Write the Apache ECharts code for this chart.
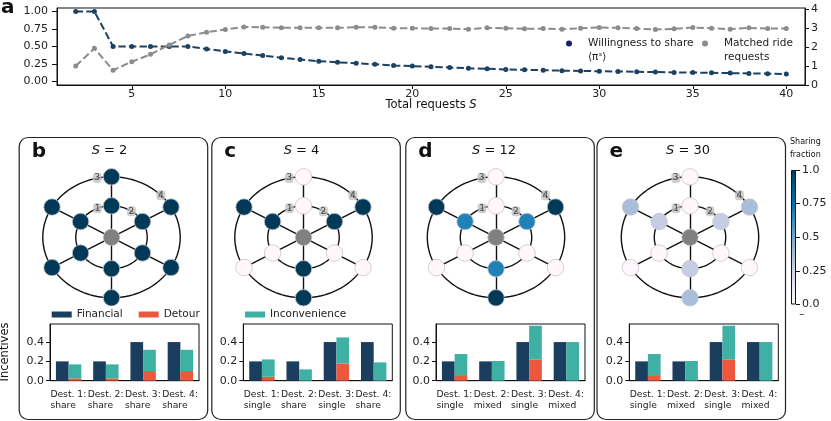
<!DOCTYPE html>
<html>
<head>
<meta charset="utf-8">
<script src="https://cdn.jsdelivr.net/npm/echarts@6/dist/echarts.min.js"></script>
<style>
  html, body { margin: 0; padding: 0; background: #fff; }
  #chart { width: 831px; height: 421px; }
</style>
</head>
<body>
<div id="chart"></div>
<script>
// ---- panel a: line chart data ----
var requests = [2, 3, 4, 5, 6, 7, 8, 9, 10, 11, 12, 13, 14, 15, 16, 17, 18, 19, 20, 21,
  22, 23, 24, 25, 26, 27, 28, 29, 30, 31, 32, 33, 34, 35, 36, 37, 38, 39, 40];
var willingness = [1.00, 1.00, 0.50, 0.50, 0.50, 0.50, 0.50, 0.465, 0.43, 0.40, 0.37, 0.34,
  0.315, 0.29, 0.275, 0.26, 0.245, 0.23, 0.22, 0.21, 0.20, 0.19, 0.182, 0.173, 0.167, 0.162,
  0.155, 0.15, 0.147, 0.143, 0.139, 0.135, 0.13, 0.128, 0.124, 0.12, 0.116, 0.112, 0.106];
var matched = [1.00, 1.94, 0.78, 1.23, 1.62, 2.12, 2.59, 2.79, 2.93, 3.07, 3.05, 3.03, 3.02,
  3.02, 3.02, 3.05, 3.05, 3.00, 3.00, 2.98, 2.98, 2.95, 3.02, 3.00, 2.97, 2.98, 2.95, 3.00,
  3.04, 3.02, 2.98, 2.93, 2.97, 3.04, 3.00, 2.95, 3.02, 2.98, 2.98];
var xTicks = [5, 10, 15, 20, 25, 30, 35, 40];
var leftTicks = [0, 0.25, 0.5, 0.75, 1];
var rightTicks = [0, 1, 2, 3, 4];

// ---- panels b-e ----
var panelLetters = ['b', 'c', 'd', 'e'];
var panelS = [2, 4, 12, 30];
var destNames = ['Dest. 1:', 'Dest. 2:', 'Dest. 3:', 'Dest. 4:'];
var destModes = [
  ['share', 'share', 'share', 'share'],
  ['single', 'share', 'single', 'share'],
  ['single', 'mixed', 'single', 'mixed'],
  ['single', 'mixed', 'single', 'mixed']
];
var financial = [[0.2, 0.2, 0.4, 0.4], [0.2, 0.2, 0.4, 0.4], [0.2, 0.2, 0.4, 0.4], [0.2, 0.2, 0.4, 0.4]];
var detour = [[0.024, 0.024, 0.1, 0.1], [0.041, 0, 0.179, 0], [0.058, 0, 0.221, 0], [0.058, 0, 0.221, 0]];
var inconvenience = [[0.145, 0.145, 0.22, 0.22], [0.179, 0.117, 0.269, 0.19],
  [0.218, 0.204, 0.348, 0.4], [0.218, 0.204, 0.348, 0.4]];
var barTicks = [0, 0.2, 0.4];

// network: centre node, inner ring and outer ring (angles in degrees)
var ringRadii = [0.52, 1.0];
var spokeAngles = [90, 30, -30, -90, -150, 150];
// sharing fraction per node, order follows spokeAngles
var innerShare = [
  [1, 1, 1, 1, 1, 1],
  [0, 1, 0, 1, 0, 1],
  [0, 0.68, 0, 0.68, 0, 0.68],
  [0, 0.28, 0, 0.28, 0, 0.28]
];
var outerShare = [
  [1, 1, 1, 1, 1, 1],
  [0, 1, 0, 1, 0, 1],
  [0, 1, 0, 1, 0, 1],
  [0, 0.37, 0, 0.37, 0, 0.37]
];
var destMarks = [{ name: '1', ring: 0, angle: 113 }, { name: '2', ring: 0, angle: 56 },
  { name: '3', ring: 1, angle: 102 }, { name: '4', ring: 1, angle: 44 }];
var cbarTicks = [0, 0.25, 0.5, 0.75, 1];
var cbarLabels = ['0.0', '0.25', '0.5', '0.75', '1.0'];

var PuBu = ['#fff7fb', '#ece7f2', '#d0d1e6', '#a6bddb', '#74a9cf', '#3690c0', '#0570b0', '#045a8d', '#023858'];
function hexRgb(h) { return [parseInt(h.substr(1, 2), 16), parseInt(h.substr(3, 2), 16), parseInt(h.substr(5, 2), 16)]; }
function pubu(v) {
  var t = Math.max(0, Math.min(1, v)) * (PuBu.length - 1);
  var i = Math.min(Math.floor(t), PuBu.length - 2), f = t - i;
  var a = hexRgb(PuBu[i]), b = hexRgb(PuBu[i + 1]);
  return 'rgb(' + [0, 1, 2].map(function (k) { return Math.round(a[k] + (b[k] - a[k]) * f); }).join(',') + ')';
}

// layout
var boxLeft = [16.7, 209.3, 403.3, 594.5];
var barLeft = [50, 243.3, 436, 629.3];
var netCx = [111.5, 303.5, 496, 690];
var netCy = 237.3, pxX = 68.7, pxY = 60.5;

var FONT = 'DejaVu Sans';
var ink = '#222';
var TICK = 11;

var grids = [{ left: 57, top: 8, width: 748, height: 77, show: true, borderColor: '#111', borderWidth: 1 }];
var xAxes = [{
  type: 'value', gridIndex: 0, min: 1, max: 41,
  axisLine: { onZero: false, lineStyle: { color: '#111' } },
  axisTick: { customValues: xTicks, length: 4, lineStyle: { color: '#111' } },
  axisLabel: { customValues: xTicks, fontSize: TICK, color: ink, margin: 3.5 },
  splitLine: { show: false }
}];
var yAxes = [{
  type: 'value', gridIndex: 0, min: -0.05, max: 1.05, position: 'left',
  axisLine: { show: true, onZero: false, lineStyle: { color: '#111' } },
  axisTick: { show: true, customValues: leftTicks, length: 5, lineStyle: { color: '#111' } },
  axisLabel: { customValues: leftTicks, fontSize: TICK, color: ink, margin: 9, formatter: function (v) { return v.toFixed(2); } },
  splitLine: { show: false }
}, {
  type: 'value', gridIndex: 0, min: 0, max: 4.07, position: 'right',
  axisLine: { show: true, onZero: false, lineStyle: { color: '#111' } },
  axisTick: { show: true, customValues: rightTicks, length: 4, lineStyle: { color: '#111' } },
  axisLabel: { customValues: rightTicks, fontSize: TICK, color: ink, margin: 6 },
  splitLine: { show: false }
}];
var series = [{
  type: 'line', name: 'Willingness to share', xAxisIndex: 0, yAxisIndex: 0,
  data: requests.map(function (s, i) { return [s, willingness[i]]; }),
  symbol: 'circle', symbolSize: 5, color: '#1b4262',
  lineStyle: { color: '#1b4262', width: 2, type: [7.4, 3.2] }, z: 3
}, {
  type: 'line', name: 'Matched ride requests', xAxisIndex: 0, yAxisIndex: 1,
  data: requests.map(function (s, i) { return [s, matched[i]]; }),
  symbol: 'circle', symbolSize: 5, color: '#8c8c8c',
  lineStyle: { color: '#8c8c8c', width: 2, type: [7.4, 3.2] }, z: 4
}];

var graphic = [];

for (var p = 0; p < 4; p++) {
  // network grid
  var gi = grids.length;
  grids.push({ left: netCx[p] - 1.3 * pxX, top: netCy - 1.2 * pxY, width: 2.6 * pxX, height: 2.4 * pxY });
  xAxes.push({ type: 'value', gridIndex: gi, min: -1.3, max: 1.3, show: false });
  yAxes.push({ type: 'value', gridIndex: gi, min: -1.2, max: 1.2, show: false });
  var xa = xAxes.length - 1, ya = yAxes.length - 1;

  series.push({
    type: 'custom', coordinateSystem: 'cartesian2d', xAxisIndex: xa, yAxisIndex: ya, silent: true, z: 1,
    data: ringRadii.map(function (r) { return [0, 0, r]; }),
    renderItem: function (params, api) {
      var r = api.value(2), pts = [];
      for (var t = 0; t <= 120; t++) {
        var a = t / 120 * 2 * Math.PI;
        pts.push(api.coord([r * Math.cos(a), r * Math.sin(a)]));
      }
      return { type: 'polyline', shape: { points: pts }, style: { stroke: '#111', lineWidth: 1.4, fill: null } };
    }
  });

  var nodes = [{ value: [0, 0], itemStyle: { color: '#808080' } }];
  var links = [];
  [innerShare[p], outerShare[p]].forEach(function (shares, ring) {
    spokeAngles.forEach(function (ang, k) {
      var a = ang * Math.PI / 180, r = ringRadii[ring];
      nodes.push({ value: [r * Math.cos(a), r * Math.sin(a)], itemStyle: { color: pubu(shares[k]) } });
      links.push(ring === 0 ? { source: 0, target: 1 + k } : { source: 1 + k, target: 7 + k });
    });
  });
  series.push({
    type: 'graph', coordinateSystem: 'cartesian2d', xAxisIndex: xa, yAxisIndex: ya, silent: true, z: 2,
    symbolSize: 16.5, data: nodes, links: links,
    itemStyle: { borderColor: '#c6c6c6', borderWidth: 0.8 },
    lineStyle: { color: '#111', width: 1.4, opacity: 1, curveness: 0 },
    label: { show: false }, emphasis: { disabled: true }
  });
  series.push({
    type: 'scatter', xAxisIndex: xa, yAxisIndex: ya, silent: true, z: 3,
    symbolSize: 0.1, itemStyle: { color: 'transparent' },
    data: destMarks.map(function (m) {
      var a = m.angle * Math.PI / 180, r = ringRadii[m.ring];
      return { name: m.name, value: [r * Math.cos(a), r * Math.sin(a)] };
    }),
    label: {
      show: true, position: 'inside', formatter: '{b}', color: ink, fontSize: 9,
      backgroundColor: '#c2c2c2', borderRadius: 3, padding: [1, 1.5, 0, 1.5]
    }
  });

  // bar grid
  gi = grids.length;
  grids.push({ left: barLeft[p], top: 324, width: 149, height: 56.7, show: true, borderColor: '#111', borderWidth: 1 });
  xAxes.push({
    type: 'category', gridIndex: gi,
    data: destNames.map(function (d, k) { return d + '\n' + destModes[p][k]; }),
    axisLine: { lineStyle: { color: '#111' } },
    axisTick: { alignWithLabel: true, length: 4, lineStyle: { color: '#111' } },
    axisLabel: {
      interval: 0, margin: 8, color: ink,
      formatter: function (v) { var s = v.split('\n'); return '{a|' + s[0] + '}\n{a|' + s[1] + '}'; },
      rich: { a: { width: 36.5, align: 'left', fontSize: 9.2, lineHeight: 11, color: ink, fontFamily: FONT } }
    }
  });
  yAxes.push({
    type: 'value', gridIndex: gi, min: 0, max: 0.587,
    axisLine: { show: true, lineStyle: { color: '#111' } },
    axisTick: { show: true, customValues: barTicks, length: 4, lineStyle: { color: '#111' } },
    axisLabel: { customValues: barTicks, fontSize: TICK, color: ink, margin: 6, formatter: function (v) { return v.toFixed(1); } },
    splitLine: { show: false }
  });
  xa = xAxes.length - 1; ya = yAxes.length - 1;
  series.push({ type: 'bar', name: 'Financial', xAxisIndex: xa, yAxisIndex: ya, data: financial[p],
    barWidth: 12.7, barGap: '0%', itemStyle: { color: '#1b3d5e' }, silent: true });
  series.push({ type: 'bar', name: 'Detour', xAxisIndex: xa, yAxisIndex: ya, data: detour[p], stack: 'inc' + p,
    barWidth: 12.7, barGap: '0%', itemStyle: { color: '#ec583d' }, silent: true });
  series.push({ type: 'bar', name: 'Inconvenience', xAxisIndex: xa, yAxisIndex: ya, data: inconvenience[p], stack: 'inc' + p,
    barWidth: 12.7, barGap: '0%', itemStyle: { color: '#3eb0a4' }, silent: true });

  // box, letter, title
  graphic.push({ type: 'rect', left: boxLeft[p], top: 135, shape: { width: 188.5, height: 282, r: 9 },
    style: { fill: null, stroke: '#222', lineWidth: 1.2 }, silent: true });
  graphic.push({ type: 'text', x: boxLeft[p] + 15, y: 152,
    style: { text: panelLetters[p], font: 'bold 20px "DejaVu Sans"', fill: '#111', verticalAlign: 'middle' } });
  graphic.push({ type: 'text', x: netCx[p] - 2, y: 151,
    style: { text: '{i|S} = ' + panelS[p], align: 'center', verticalAlign: 'middle', fill: '#111',
      font: '13px "DejaVu Sans"', rich: { i: { fontStyle: 'italic', fontSize: 13, fontFamily: FONT, fill: '#111' } } } });
}

// colour bar
var cg = grids.length;
grids.push({ left: 791, top: 170, width: 5, height: 134.5 });
xAxes.push({ type: 'category', gridIndex: cg, data: [''], show: false });
yAxes.push({
  type: 'value', gridIndex: cg, min: 0, max: 1, position: 'right',
  axisLine: { show: false },
  axisTick: { show: true, customValues: cbarTicks, length: 4, lineStyle: { color: '#111' } },
  axisLabel: { customValues: cbarTicks, fontSize: TICK, color: ink, margin: 6,
    formatter: function (v) { return cbarLabels[cbarTicks.indexOf(v)]; } },
  splitLine: { show: false }
});
series.push({
  type: 'bar', xAxisIndex: xAxes.length - 1, yAxisIndex: yAxes.length - 1, data: [1], barWidth: '100%', silent: true,
  itemStyle: {
    borderColor: '#111', borderWidth: 1,
    color: new echarts.graphic.LinearGradient(0, 0, 0, 1, PuBu.slice().reverse().map(function (c, i) {
      return { offset: i / (PuBu.length - 1), color: c };
    }))
  }
});

// top legend second lines
graphic.push({ type: 'text', x: 588, y: 57, style: { text: '\u27e8\u03c0\u02e2\u27e9', verticalAlign: 'middle', fill: ink, font: '10.5px "DejaVu Sans"' } });
graphic.push({ type: 'text', x: 724, y: 57, style: { text: 'requests', verticalAlign: 'middle', fill: ink, font: '10.5px "DejaVu Sans"' } });

graphic.push({ type: 'text', x: 1, y: 8, style: { text: 'a', font: 'bold 20px "DejaVu Sans"', fill: '#111', verticalAlign: 'middle' } });
graphic.push({ type: 'text', x: 431, y: 105,
  style: { text: 'Total requests {i|S}', align: 'center', verticalAlign: 'middle', fill: '#111', font: '11.5px "DejaVu Sans"',
    rich: { i: { fontStyle: 'italic', fontSize: 11.5, fontFamily: FONT, fill: '#111' } } } });
graphic.push({ type: 'text', x: 5.5, y: 352, rotation: Math.PI / 2,
  style: { text: 'Incentives', align: 'center', verticalAlign: 'middle', fill: '#111', font: '11.5px "DejaVu Sans"' } });
graphic.push({ type: 'text', x: 790, y: 148,
  style: { text: 'Sharing\nfraction', verticalAlign: 'middle', fill: '#111', font: '8px "DejaVu Sans"', lineHeight: 13 } });
graphic.push({ type: 'text', x: 801.7, y: 314,
  style: { text: '\u2013', align: 'center', verticalAlign: 'middle', fill: '#111', font: '10px "DejaVu Sans"' } });

var chart = echarts.init(document.getElementById('chart'), null, { renderer: 'canvas' });
chart.setOption({
  animation: false,
  backgroundColor: '#fff',
  textStyle: { fontFamily: FONT },
  grid: grids,
  xAxis: xAxes,
  yAxis: yAxes,
  legend: [{
    left: 566, top: 38, padding: 0, icon: 'circle', itemWidth: 6, itemHeight: 6, selectedMode: false,
    data: [{ name: 'Willingness to share', itemStyle: { color: '#1b1f6b' } }],
    formatter: '{t|{name}}',
    textStyle: { fontSize: 10.5, color: ink, rich: { t: { fontSize: 10.5, color: ink, padding: [0, 0, 0, 11] } } }
  }, {
    left: 702, top: 38, padding: 0, icon: 'circle', itemWidth: 6, itemHeight: 6, selectedMode: false,
    data: [{ name: 'Matched ride requests', itemStyle: { color: '#8c8c8c' } }],
    formatter: function () { return '{t|Matched ride}'; },
    textStyle: { fontSize: 10.5, color: ink, rich: { t: { fontSize: 10.5, color: ink, padding: [0, 0, 0, 11] } } }
  }, {
    left: 51.7, top: 309, padding: 0, icon: 'rect', itemWidth: 20, itemHeight: 6, itemGap: 16, selectedMode: false,
    data: ['Financial', 'Detour'], textStyle: { fontSize: 10.5, color: ink }
  }, {
    left: 245, top: 309, padding: 0, icon: 'rect', itemWidth: 20, itemHeight: 6, selectedMode: false,
    data: ['Inconvenience'], textStyle: { fontSize: 10.5, color: ink }
  }],
  graphic: graphic,
  series: series
});
</script>
</body>
</html>
